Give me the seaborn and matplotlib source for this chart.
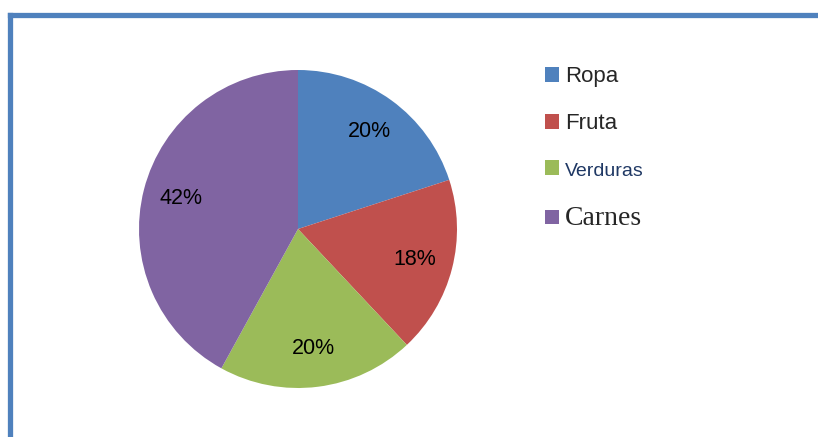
import matplotlib.pyplot as plt
import seaborn as sns
from matplotlib.lines import Line2D

categorias = ["Ropa", "Fruta", "Verduras", "Carnes"]
porcentajes = [20, 18, 20, 42]
colores = ["#4F81BD", "#C0504D", "#9BBB59", "#8064A2"]

sns.set_theme(style="white")
plt.rcParams['font.family'] = ['Liberation Sans', 'DejaVu Sans']

W, H = 818, 437
fig = plt.figure(figsize=(W / 100, H / 100), dpi=100)

# pie centred at (298, 229) px, radius 159 px
cx, cy, r = 298, 229, 159
ax = fig.add_axes([(cx - r) / W, (H - cy - r) / H, 2 * r / W, 2 * r / H])
wedges, texts, autotexts = ax.pie(
    porcentajes, colors=colores, startangle=90, counterclock=False,
    autopct=lambda p: f"{p:.0f}%", pctdistance=0.76,
    wedgeprops=dict(linewidth=0),
    textprops=dict(fontsize=15.5, color="black"),
)
ax.set_xlim(-1, 1)
ax.set_ylim(-1, 1)
ax.set_aspect("equal")

# legend
leg = fig.legend(wedges, categorias, loc="upper left",
                 bbox_to_anchor=(536 / W, 1 - 57 / H), frameon=False,
                 fontsize=16, handlelength=0.65, handleheight=0.65,
                 handletextpad=0.25, labelspacing=1.18, borderaxespad=0)
t = leg.get_texts()
t[2].set_family(['Liberation Sans Narrow', 'Liberation Sans'])
t[2].set_fontsize(14)
t[2].set_color("#1F3864")
t[3].set_family(['Liberation Serif'])
t[3].set_fontsize(20)

# blue frame (left and top edges)
borde = "#4F81BD"
x0 = 9.5 / W
y0 = 1 - 14.5 / H
fig.add_artist(Line2D([x0, x0], [-0.05, y0], transform=fig.transFigure,
                      color=borde, linewidth=3.8, solid_capstyle="projecting"))
fig.add_artist(Line2D([x0, 1.05], [y0, y0], transform=fig.transFigure,
                      color=borde, linewidth=3.8, solid_capstyle="projecting"))

fig.savefig("out.png", dpi=100)
